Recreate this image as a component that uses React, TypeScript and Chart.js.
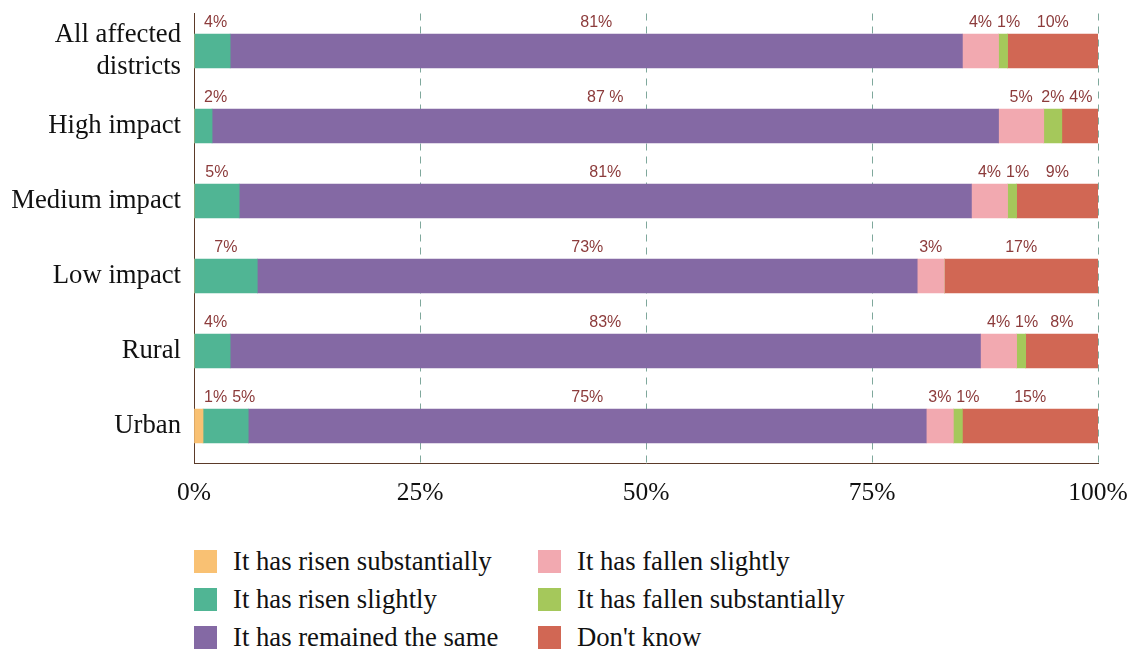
import React, { useEffect, useRef } from "react";
import { Chart, registerables } from "chart.js";

Chart.register(...registerables);

const categories: (string | string[])[] = [
  ["All affected", "districts"],
  "High impact",
  "Medium impact",
  "Low impact",
  "Rural",
  "Urban",
];

const seriesNames = [
  "It has risen substantially",
  "It has risen slightly",
  "It has remained the same",
  "It has fallen slightly",
  "It has fallen substantially",
  "Don't know",
];

const risenSubstantially = [0, 0, 0, 0, 0, 1];
const risenSlightly = [4, 2, 5, 7, 4, 5];
const remainedSame = [81, 87, 81, 73, 83, 75];
const fallenSlightly = [4, 5, 4, 3, 4, 3];
const fallenSubstantially = [1, 2, 1, 0, 1, 1];
const dontKnow = [10, 4, 9, 17, 8, 15];

const xTicks = [0, 25, 50, 75, 100];

// text overrides for value labels: [seriesIndex, categoryIndex, text]
const labelOverrides: [number, number, string][] = [[2, 1, "87 %"]];

const colors = ["#F9C173", "#50B594", "#8469A4", "#F2A9B0", "#A5C85B", "#D16754"];

const seriesValues = [
  risenSubstantially,
  risenSlightly,
  remainedSame,
  fallenSlightly,
  fallenSubstantially,
  dontKnow,
];

const valueLabelPlugin = {
  id: "valueLabels",
  afterDatasetsDraw(chart: any) {
    const ctx = chart.ctx;
    const area = chart.chartArea;
    ctx.save();
    ctx.font = "16px 'Liberation Sans', Arial, sans-serif";
    ctx.fillStyle = "#8C3B3B";
    ctx.textAlign = "left";
    ctx.textBaseline = "alphabetic";
    const nCat = chart.data.labels.length;
    for (let j = 0; j < nCat; j++) {
      let prevRight = area.left + 10 - 5;
      chart.data.datasets.forEach((ds: any, i: number) => {
        const meta = chart.getDatasetMeta(i);
        const el = meta.data[j];
        const v = ds.data[j];
        if (!v || !el) return;
        const ov = labelOverrides.find((o) => o[0] === i && o[1] === j);
        const text = ov ? ov[2] : `${v}%`;
        const props = el.getProps(["x", "y", "base", "height"], true);
        const w = ctx.measureText(text).width;
        const cx = (props.x + props.base) / 2;
        let left = cx - w / 2;
        if (left < prevRight + 5) left = prevRight + 5;
        const y = props.y - props.height / 2 - 7;
        ctx.fillText(text, left, y);
        prevRight = left + w;
      });
    }
    ctx.restore();
  },
};

const serif = "'Liberation Serif', 'Times New Roman', serif";

function noOverhang(axis: any) {
  axis.paddingTop = 0;
  axis.paddingBottom = 0;
  axis.paddingLeft = 0;
  axis.paddingRight = 0;
}

export default function App() {
  const ref = useRef<HTMLCanvasElement | null>(null);

  useEffect(() => {
    if (!ref.current) return;
    const chart = new Chart(ref.current, {
      type: "bar",
      data: {
        labels: categories as any,
        datasets: seriesNames.map((name, i) => ({
          label: name,
          data: seriesValues[i],
          backgroundColor: colors[i],
          borderWidth: 0,
          barThickness: 34,
        })),
      },
      options: {
        indexAxis: "y",
        responsive: false,
        maintainAspectRatio: false,
        animation: false,
        layout: { padding: { top: 13.5, right: 38, left: 0, bottom: 0 } },
        plugins: {
          legend: { display: false },
          tooltip: { enabled: false },
        },
        scales: {
          x: {
            stacked: true,
            min: 0,
            max: 100,
            afterBuildTicks(axis: any) {
              axis.ticks = xTicks.map((v) => ({ value: v }));
            },
            afterFit(axis: any) {
              axis.height = 66.5;
              noOverhang(axis);
            },
            ticks: {
              callback: (v: any) => `${v}%`,
              font: { family: serif, size: 25.5 },
              color: "#111111",
              padding: 14,
              maxRotation: 0,
            },
            grid: {
              color: "#7FA89C",
              lineWidth: 1,
              drawTicks: false,
            },
            border: { display: true, color: "#5B3A29", width: 1, dash: [7, 6] },
          },
          y: {
            stacked: true,
            afterFit(axis: any) {
              axis.width = 194;
              noOverhang(axis);
            },
            ticks: {
              font: { family: serif, size: 26.7, lineHeight: 1.2 },
              color: "#111111",
              padding: 13,
            },
            grid: { display: false, drawTicks: false },
            border: { display: true, color: "#5B3A29", width: 1 },
          },
        },
      },
      plugins: [valueLabelPlugin],
    } as any);
    return () => chart.destroy();
  }, []);

  return (
    <div style={{ position: "absolute", left: 0, top: 0, width: 1136, height: 649, overflow: "hidden", background: "#fff" }}>
      <canvas ref={ref} width={1136} height={530} style={{ display: "block" }} />
      {seriesNames.map((name, i) => {
        const col = Math.floor(i / 3);
        const row = i % 3;
        const cy = 561.5 + 38 * row;
        const boxLeft = col === 0 ? 194 : 538;
        const textLeft = col === 0 ? 233 : 577;
        return (
          <React.Fragment key={name}>
            <div
              style={{
                position: "absolute",
                left: boxLeft,
                top: cy - 11.5,
                width: 23,
                height: 23,
                background: colors[i],
              }}
            />
            <div
              style={{
                position: "absolute",
                left: textLeft,
                top: cy - 19,
                height: 38,
                display: "flex",
                alignItems: "center",
                fontFamily: serif,
                fontSize: 26.7,
                color: "#111111",
                whiteSpace: "nowrap",
                lineHeight: 1,
              }}
            >
              {name}
            </div>
          </React.Fragment>
        );
      })}
    </div>
  );
}
